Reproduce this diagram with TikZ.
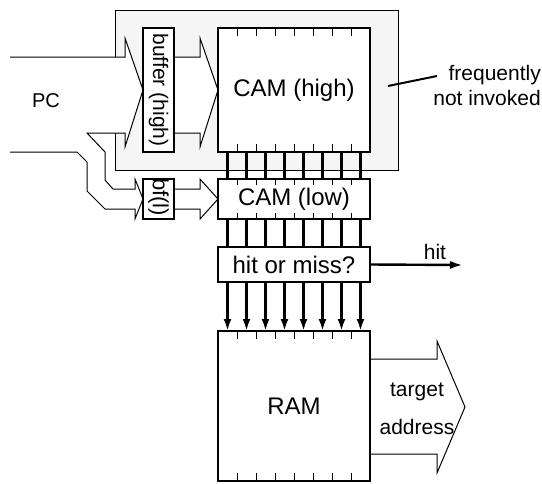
\documentclass[tikz,border=0pt]{standalone}
\usepackage{fontspec}
\setmainfont{Liberation Sans}
\usetikzlibrary{arrows.meta,calc}
\begin{document}
\begin{tikzpicture}[x=1pt,y=-1pt,
  box/.style={draw, line width=2.6pt, fill=white, outer sep=0pt, inner sep=0pt},
  fatarrow/.style={line width=1pt, fill=white, line join=miter},
  tickl/.style={line width=1pt},
  bus/.style={line width=2.4pt},
  busarrow/.style={line width=2.4pt, -{Latex[length=12pt,width=8pt]}},
  big/.style={font=\fontsize{24}{28}\selectfont},
  lbl/.style={font=\fontsize{21}{25}\selectfont, inner sep=0pt},
]
\useasboundingbox (0,0) rectangle (542,483);
% region "frequently not invoked"
\draw[line width=0.8pt, fill=black!4] (115,10) rectangle (398,170);

% boxes (positions)
\node[box, minimum width=152pt, minimum height=124pt, big] (camh) at (294,90) {CAM (high)};
\node[box, minimum width=152pt, minimum height=40pt, big] (caml) at (294,199) {CAM (low)};
\node[box, minimum width=152pt, minimum height=35pt, big] (hm) at (294,264.5) {hit or miss?};
\node[box, minimum width=152pt, minimum height=150pt, big] (ram) at (294,406) {RAM};
\node[box, minimum width=31pt, minimum height=124pt] (bufh) at (158.5,90) {};
\node[box, minimum width=31pt, minimum height=40pt] (bfl) at (158.5,199) {};

% PC fat arrow, split in two
\draw[fatarrow] (10,57) -- (125,57) -- (125,38) -- (bufh.west) -- (125,147) -- (125,133)
  -- (87,133) -- (105,152) -- (105,180) -- (113,189) -- (135,189) -- (135,179)
  -- (bfl.west) -- (135,219) -- (135,209) -- (105,209) -- (87,191) -- (87,162)
  -- (77,152) -- (10,152);
% buffer(high) -> CAM(high)
\draw[fatarrow] (bufh.east |- 0,57) -- (200,57) -- (200,38) -- (camh.west) -- (200,147)
  -- (200,133) -- (bufh.east |- 0,133);
% bf(l) -> CAM(low)
\draw[fatarrow] (bfl.east |- 0,189) -- (200,189) -- (200,179) -- (caml.west) -- (200,219)
  -- (200,209) -- (bfl.east |- 0,209);
% target address arrow
\draw[fatarrow] (ram.east |- 0,359) -- (437,359) -- (437,341) -- (465,407) -- (437,473)
  -- (437,454) -- (ram.east |- 0,454);

% redraw box borders on top of the arrows
\foreach \n in {camh,caml,hm,ram,bufh,bfl}
  \draw[line width=2.6pt] (\n.north west) rectangle (\n.south east);

% ticks
\foreach \k in {1,...,7}{
  \draw[tickl] ([xshift=19*\k pt]camh.north west) -- ++(0,8);
  \draw[tickl] ([xshift=19*\k pt]camh.south west) -- ++(0,-8);
  \draw[tickl] ([xshift=19*\k pt]caml.north west) -- ++(0,6);
  \draw[tickl] ([xshift=19*\k pt]caml.south west) -- ++(0,-6);
  \draw[tickl] ([xshift=19*\k pt]ram.north west) -- ++(0,8);
  \draw[tickl] ([xshift=19*\k pt]ram.south west) -- ++(0,-8);
}
% buses
\foreach \k in {0,...,7}{
  \draw[bus] ([xshift=9.5pt+19*\k pt]camh.south west) -- ([xshift=9.5pt+19*\k pt]caml.north west);
  \draw[bus] ([xshift=9.5pt+19*\k pt]caml.south west) -- ([xshift=9.5pt+19*\k pt]hm.north west);
  \draw[busarrow] ([xshift=9.5pt+19*\k pt]hm.south west) -- ([xshift=9.5pt+19*\k pt]ram.north west);
}

% texts in the narrow buffers
\node[lbl, rotate=-90] (tbufh) at (bufh.center) {buffer (high)};
\begin{scope}
  \clip (bfl.north west) rectangle (bfl.south east);
  \node[lbl, rotate=-90, font=\fontsize{22}{26}\selectfont] (tbfl) at ($(bfl.center)+(0,-2)$) {bf(l)};
\end{scope}

% hit output
\coordinate (hitend) at (463,265);
\draw[bus, -{Latex[length=13pt,width=8pt]}] (hm.east) -- (hitend);
\node[lbl] (hit) at (435,252) {hit};

% labels
\node[lbl, font=\fontsize{20}{24}\selectfont] (pc) at (46,101) {PC};
\node[lbl] (tgt) at (417,392) {target};
\node[lbl] (addr) at (417,427) {address};
\node[lbl, align=right, anchor=east] (note) at (541,85) {frequently\\not invoked};
\coordinate (ptA) at (388,86);
\coordinate (ptB) at (437,76);
\draw[line width=2pt] (ptA) -- (ptB);
\end{tikzpicture}
\end{document}
